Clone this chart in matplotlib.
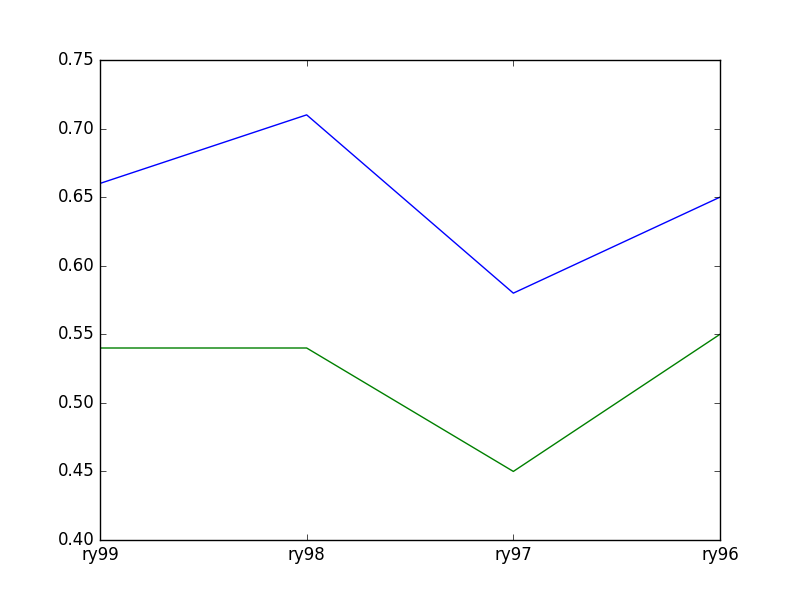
import matplotlib
matplotlib.use('Agg')
import matplotlib.pyplot as plt

plt.style.use('classic')

runs = ['ry99', 'ry98', 'ry97', 'ry96']
blue_vals = [0.66, 0.71, 0.58, 0.65]
green_vals = [0.54, 0.54, 0.45, 0.55]

fig = plt.figure(figsize=(8, 6), dpi=100)
ax = fig.add_subplot(111)
x = range(len(runs))
ax.plot(x, blue_vals, color='b')
ax.plot(x, green_vals, color='g')
ax.set_xticks(list(x))
ax.set_xticklabels(runs)
ax.set_ylim(0.40, 0.75)
ax.set_xlim(0, len(runs) - 1)

fig.savefig('out.png', dpi=100)
